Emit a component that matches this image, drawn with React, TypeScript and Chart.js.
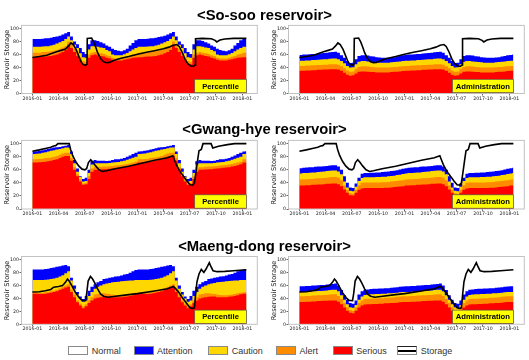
import { useEffect, useRef } from 'react';
import { Chart, registerables } from 'chart.js';

Chart.register(...registerables);

// ---------- axes ----------
const xTickLabels = ['2016-01', '2016-04', '2016-07', '2016-10', '2017-01', '2017-04', '2017-07', '2017-10', '2018-01'];
const yTickValues = [0, 20, 40, 60, 80, 100];
const yMax = 105;
const seriesEnd = '2018-01-15';
const dekadStartDays = [1, 11, 21];

// ---------- drought thresholds, one value per 10-day period (Jan 1-10 ... Dec 21-31) ----------
// So-soo, percentile method
const sosooPctSerious = [56, 56, 56.5, 57, 57, 57.5, 58, 59, 60, 62, 64, 67, 75, 70, 64, 58, 52, 46, 45, 55, 59, 60, 59, 58, 57, 55, 54, 52, 51, 51, 51, 52, 53, 54, 55, 55.5];
const sosooPctAlert = [63, 63, 63, 64, 64, 64.5, 65, 66, 67, 69, 71, 73, 80, 75, 69, 63, 56, 50, 49, 60, 63, 64, 63, 62, 61, 59, 58, 55, 54, 54, 54, 55, 56.5, 58, 60, 61];
const sosooPctCaution = [72, 72, 72, 72.5, 73, 73, 74, 75, 77, 79, 81, 84, 88, 82, 75, 70, 62, 56, 55, 68, 73, 73, 72, 71, 70, 67, 65, 60, 59, 59, 59, 60.5, 62.5, 65, 68, 70];
const sosooPctAttention = [84, 84, 84, 84.5, 85, 85, 86, 87, 88, 89, 91, 93, 95, 88, 80, 76, 70, 64, 61, 76, 82, 82, 81, 79, 77, 74, 72, 69, 67, 66, 65, 66.5, 69, 74, 78, 82];
// So-soo, administration method
const sosooAdmSerious = [35, 35, 35.5, 35.5, 36, 36, 36.5, 36.5, 37, 37, 37.5, 37.5, 37.5, 37, 35, 32, 29, 27.5, 28, 31, 33.5, 34, 34, 33.5, 33, 33, 32.5, 32.5, 32.5, 32.5, 32.5, 33, 33.5, 33.5, 34, 34.5];
const sosooAdmAlert = [42.5, 42.5, 43, 43, 43.5, 43.5, 44, 44, 44.5, 44.5, 45, 45, 45, 44.5, 42, 39, 35.5, 33.5, 34, 38, 41, 42, 42, 41.5, 41, 40.5, 40, 40, 40, 40, 40, 40.5, 41, 41, 41.5, 42];
const sosooAdmCaution = [50.5, 50.5, 51, 51, 51.5, 51.5, 52, 52.5, 53, 53, 53.5, 54, 54, 53, 50, 46.5, 42.5, 40, 40.5, 45, 49, 50, 50, 49.5, 49, 48.5, 48, 47.5, 47.5, 47.5, 47.5, 48, 48.5, 49, 49.5, 50];
const sosooAdmAttention = [59.5, 60, 60, 60.5, 61, 61, 61.5, 62, 62.5, 63, 63.5, 64, 64.5, 63, 59, 55, 50, 47, 47.5, 53, 58, 59, 59, 58.5, 57.5, 57, 56, 55.5, 55, 55, 55, 55.5, 56, 57, 58, 59];

// Gwang-hye, percentile method
const gwanghyePctSerious = [71, 71, 71.5, 72, 72.5, 73, 74, 75, 76, 78, 80, 81, 81, 74, 60, 50, 42, 37, 38, 46, 57, 60, 60, 60.5, 61, 61, 61.5, 62, 62.5, 63, 63.5, 64, 65, 66, 67, 68.5];
const gwanghyePctAlert = [76, 76, 76.5, 77, 78, 78.5, 79, 80, 81, 83, 85, 86, 86, 78, 64, 53, 45, 39, 40, 50, 62, 64, 64, 64.5, 65, 65, 65.5, 66, 66.5, 67, 67.5, 68, 69, 70, 71, 72.5];
const gwanghyePctCaution = [84, 84.5, 85, 86, 87, 88, 89, 90, 91, 92, 93, 94, 94, 84, 70, 57, 49, 42, 43, 55, 68, 70, 70, 70, 70, 70, 70.5, 71, 71.5, 72, 73, 74, 75.5, 77, 78.5, 80];
const gwanghyePctAttention = [88, 88.5, 89, 90, 91, 92, 93, 94, 94.5, 95, 96, 97, 98, 88, 75, 62, 50, 46, 48, 60, 73, 75, 74, 74, 74, 73.5, 74, 75, 76, 76, 77, 78, 80, 82, 84, 86];
// Gwang-hye, administration method
const gwanghyeAdmSerious = [36, 36, 36.5, 36.5, 37, 37, 37.5, 37.5, 38, 38.5, 38.5, 39, 39, 38, 35, 30, 25, 21, 20.5, 25, 29.5, 31.5, 32, 32, 32, 32, 32, 32, 32, 32.5, 32.5, 33, 33.5, 34, 34.5, 35];
const gwanghyeAdmAlert = [45, 45.5, 45.5, 46, 46, 46.5, 47, 47, 47.5, 48, 48.5, 49, 49, 48, 44, 36, 29, 24, 23.5, 29.5, 36.5, 40, 40.5, 40.5, 40.5, 40.5, 40.5, 40.5, 41, 41, 41.5, 42, 42.5, 43, 43.5, 44];
const gwanghyeAdmCaution = [54.5, 55, 55, 55.5, 56, 56, 56.5, 57, 57.5, 58, 58.5, 59, 59, 57.5, 53, 42, 33, 28, 27, 34, 43, 47.5, 48.5, 48.5, 48.5, 48.5, 49, 49, 49.5, 49.5, 50, 50.5, 51, 52, 52.5, 53.5];
const gwanghyeAdmAttention = [62.5, 63, 63.5, 64, 64, 64.5, 65, 65, 65.5, 66, 66.5, 67, 67, 65, 60, 50, 40, 33, 32, 39, 48, 54, 55, 55, 55.5, 55.5, 56, 56, 56.5, 57, 57.5, 58, 58.5, 59.5, 60.5, 61.5];

// Maeng-dong, percentile method
const maengdongPctSerious = [47.5, 47.5, 47, 47, 47.5, 48, 49, 50, 51, 53, 55, 57, 58, 50, 42, 34, 29, 25, 28, 33, 37, 40, 41, 42, 42.5, 43, 43, 42, 42, 42, 42, 42.5, 43, 44, 45, 46.5];
const maengdongPctAlert = [49.5, 49.5, 49, 49, 49.5, 50, 51, 52, 53.5, 56, 58, 60, 62, 54, 46, 37, 32, 28, 31, 37, 42, 46, 47, 48, 48, 47.5, 47, 46, 45.5, 45, 45, 45.5, 46, 47, 48, 49];
const maengdongPctCaution = [68.5, 68.5, 68.5, 68.5, 69, 69.5, 70, 71, 72, 74, 76, 79, 82, 68, 55, 46, 40, 35, 37, 44, 50, 55, 58, 60, 62, 63, 64, 65, 65.5, 66, 66.5, 67, 67.5, 68, 68, 68.5];
const maengdongPctAttention = [85, 85, 85, 85, 85.5, 86, 87, 88, 89, 90, 91, 92, 90, 72, 60, 50, 43, 39, 44, 52, 58, 62, 65, 67, 70, 71, 72, 73, 74, 74.5, 75.5, 77, 78, 80, 82, 84];
// Maeng-dong, administration method
const maengdongAdmSerious = [34.5, 34.5, 35, 35, 35.5, 35.5, 36, 36, 36.5, 36.5, 37, 37, 37, 35, 31, 26, 21, 18, 17, 21, 26, 29, 30.5, 31, 31, 31.5, 31.5, 32, 32, 32.5, 32.5, 33, 33, 33.5, 34, 34.5];
const maengdongAdmAlert = [43.5, 43.5, 44, 44, 44.5, 44.5, 45, 45, 45.5, 45.5, 46, 46.5, 46.5, 44, 39, 33, 26.5, 22, 21, 26, 33, 37, 39, 39.5, 39.5, 40, 40, 40.5, 40.5, 41, 41, 41.5, 42, 42.5, 43, 43.5];
const maengdongAdmCaution = [50, 50, 50.5, 50.5, 51, 51, 51.5, 51.5, 52, 52.5, 53, 53.5, 53.5, 51, 45, 38, 31, 26.5, 25.5, 30, 38, 43, 45.5, 46, 46.5, 46.5, 47, 47, 47.5, 47.5, 48, 48, 48.5, 49, 49.5, 50];
const maengdongAdmAttention = [59, 59, 59.5, 59.5, 60, 60, 60.5, 61, 61, 61.5, 62, 62.5, 63, 60, 53, 45, 38, 33, 32, 37, 46, 51, 53.5, 54, 54.5, 55, 55, 55.5, 55.5, 56, 56, 56.5, 57, 57.5, 58, 58.5];

// ---------- observed reservoir storage (%) ----------
const sosooStorageDates = ['2016-01-01', '2016-01-25', '2016-02-20', '2016-03-10', '2016-03-25', '2016-04-10', '2016-04-25', '2016-05-05', '2016-05-14', '2016-05-22', '2016-06-01', '2016-06-10', '2016-06-18', '2016-06-26', '2016-07-03', '2016-07-09', '2016-07-10', '2016-07-25', '2016-08-01', '2016-08-08', '2016-08-15', '2016-08-25', '2016-09-05', '2016-09-15', '2016-09-25', '2016-10-10', '2016-11-01', '2016-12-01', '2017-01-01', '2017-02-01', '2017-03-01', '2017-04-01', '2017-04-20', '2017-05-05', '2017-05-18', '2017-05-26', '2017-06-05', '2017-06-15', '2017-06-25', '2017-07-05', '2017-07-15', '2017-07-21', '2017-07-22', '2017-08-15', '2017-09-15', '2017-09-28', '2017-10-04', '2017-10-15', '2017-11-01', '2017-12-01', '2018-01-15'];
const sosooStorageValues = [55.5, 57, 59, 62, 64.5, 66.5, 68.5, 73, 78, 75.5, 68, 58, 49, 44.5, 43.5, 45, 85, 85.5, 80, 72, 63, 54, 49, 47.5, 48, 51, 54, 57, 60.5, 63.5, 66, 69, 71.5, 74.5, 75.5, 72.5, 64, 53, 46, 42.5, 42, 44, 84.5, 85, 84.5, 82, 79.5, 82.5, 84, 85, 85];

const gwanghyeStorageDates = ['2016-01-01', '2016-01-25', '2016-02-15', '2016-03-05', '2016-03-15', '2016-03-22', '2016-03-30', '2016-05-08', '2016-05-13', '2016-05-20', '2016-05-30', '2016-06-10', '2016-06-22', '2016-07-02', '2016-07-08', '2016-07-14', '2016-07-22', '2016-07-29', '2016-08-08', '2016-08-20', '2016-09-01', '2016-09-15', '2016-10-15', '2016-12-01', '2017-01-15', '2017-03-01', '2017-04-15', '2017-05-04', '2017-05-08', '2017-05-16', '2017-05-28', '2017-06-10', '2017-06-22', '2017-07-03', '2017-07-12', '2017-07-18', '2017-07-24', '2017-07-29', '2017-08-03', '2017-08-11', '2017-08-17', '2017-09-14', '2017-09-20', '2017-10-10', '2017-11-10', '2017-12-05', '2018-01-15'];
const gwanghyeStorageValues = [88.5, 90.5, 92.5, 94.5, 96.5, 97, 100, 100, 91, 82, 73, 66, 61, 60, 62, 71, 75.5, 72, 66, 60, 57.5, 58.5, 61.5, 65.5, 70, 74.5, 78.5, 81.5, 77, 68, 58, 50, 43, 37, 36.5, 40, 58, 74, 89, 91, 100, 100, 93.5, 96, 98.5, 100, 100];

const maengdongStorageDates = ['2016-01-01', '2016-01-25', '2016-02-15', '2016-03-05', '2016-03-15', '2016-04-01', '2016-04-15', '2016-04-25', '2016-05-02', '2016-05-08', '2016-05-18', '2016-05-30', '2016-06-12', '2016-06-22', '2016-07-04', '2016-07-08', '2016-07-13', '2016-07-21', '2016-07-28', '2016-08-05', '2016-08-15', '2016-08-25', '2016-09-05', '2016-09-20', '2016-10-10', '2016-12-01', '2017-01-01', '2017-03-01', '2017-04-15', '2017-05-06', '2017-05-12', '2017-05-22', '2017-06-05', '2017-06-20', '2017-07-02', '2017-07-10', '2017-07-18', '2017-07-22', '2017-07-27', '2017-08-03', '2017-08-11', '2017-08-20', '2017-08-28', '2017-09-04', '2017-09-08', '2017-09-13', '2017-09-21', '2017-10-05', '2017-11-01', '2017-12-01', '2018-01-15'];
const maengdongStorageValues = [50, 50.5, 52, 54, 57.5, 58.5, 60, 65, 70, 67, 59, 49, 41, 37, 36.5, 48, 67, 74, 70.5, 64, 55, 47, 43.5, 42, 43, 46, 47.5, 51.5, 55, 58.5, 56, 51, 42, 33, 26, 24.5, 25.5, 45, 66, 78, 85, 80.5, 86, 92, 95.5, 90, 83, 81.5, 82, 83, 84.5];

// ---------- styling ----------
const BAND_COLORS = ['#ff0000', '#ff8c00', '#ffd700', '#0000ff']; // serious, alert, caution, attention
const CANVAS_W = 262;
const CANVAS_H = 90;
const AXIS_W = 21.5;
const PAD_R = 4.7;
const X_MIN = -38;
const X_MAX = 783;

const T0 = Date.UTC(2016, 0, 1);
const dayIndex = (y: number, m: number, d: number) => (Date.UTC(y, m - 1, d) - T0) / 86400000;
const parseDay = (s: string) => {
  const [y, m, d] = s.split('-').map(Number);
  return dayIndex(y, m, d || 1);
};

function dekadSeries(values: number[]) {
  const end = parseDay(seriesEnd);
  const pts: { x: number; y: number }[] = [];
  let last = values[0];
  for (let y = 2016; y <= 2018; y++) {
    for (let m = 1; m <= 12; m++) {
      for (let k = 0; k < 3; k++) {
        const x = dayIndex(y, m, dekadStartDays[k]);
        if (x >= end) continue;
        last = values[(m - 1) * 3 + k];
        pts.push({ x, y: last });
      }
    }
  }
  pts.push({ x: end, y: last });
  return pts;
}

type PanelProps = {
  left: number;
  top: number;
  boxTop: number;
  boxBottom: number;
  bands: number[][];
  dates: string[];
  values: number[];
  badge: string;
  badgeWidth: number;
};

const tickFont = { family: 'DejaVu Sans', size: 4.7 };

function Panel(p: PanelProps) {
  const ref = useRef<HTMLCanvasElement>(null);

  useEffect(() => {
    const padTop = p.boxTop - p.top;
    const axisH = p.top + CANVAS_H - p.boxBottom;
    const xTickDays = xTickLabels.map(parseDay);
    const endDay = parseDay(seriesEnd);

    const decor = {
      id: 'panelDecor',
      afterDatasetsDraw(chart: any) {
        const { ctx, chartArea: a, scales } = chart;
        ctx.save();
        ctx.strokeStyle = '#c2c2c2';
        ctx.lineWidth = 1;
        ctx.strokeRect(a.left, a.top, a.right - a.left, a.bottom - a.top);
        const right = scales.x.getPixelForValue(endDay);
        const h = 13.4;
        const bottom = a.bottom - 0.8;
        const left = right - p.badgeWidth;
        ctx.fillStyle = '#ffff00';
        ctx.fillRect(left, bottom - h, p.badgeWidth, h);
        ctx.strokeStyle = '#555';
        ctx.lineWidth = 0.7;
        ctx.strokeRect(left, bottom - h, p.badgeWidth, h);
        ctx.fillStyle = '#000';
        ctx.font = 'bold 7.7px "Liberation Sans", Arial, sans-serif';
        ctx.textAlign = 'center';
        ctx.textBaseline = 'middle';
        ctx.fillText(p.badge, left + p.badgeWidth / 2, bottom - h / 2 + 0.5);
        ctx.restore();
      },
    };

    const bandSets = p.bands.map((vals, i) => ({
      data: dekadSeries(vals),
      stepped: 'before' as const,
      fill: 'origin',
      backgroundColor: BAND_COLORS[i],
      borderColor: BAND_COLORS[i],
      borderWidth: 0,
      pointRadius: 0,
    }));

    const chart = new Chart(ref.current as HTMLCanvasElement, {
      type: 'line',
      data: {
        datasets: [
          {
            data: p.dates.map((d, i) => ({ x: parseDay(d), y: p.values[i] })),
            borderColor: '#000',
            borderWidth: 1.6,
            pointRadius: 0,
            fill: false,
            tension: 0,
          },
          ...bandSets,
        ] as any,
      },
      options: {
        responsive: false,
        maintainAspectRatio: false,
        animation: false,
        events: [],
        layout: { padding: { top: padTop, right: PAD_R, left: 0, bottom: 0 } },
        plugins: { legend: { display: false }, tooltip: { enabled: false } },
        scales: {
          x: {
            type: 'linear',
            min: X_MIN,
            max: X_MAX,
            afterFit: (s: any) => {
              s.height = axisH;
            },
            afterBuildTicks: (s: any) => {
              s.ticks = xTickDays.map((v) => ({ value: v }));
            },
            ticks: {
              autoSkip: false,
              maxRotation: 0,
              padding: 0,
              color: '#222',
              font: tickFont,
              callback: (_v: any, i: number) => xTickLabels[i],
            },
            grid: { drawOnChartArea: false, drawTicks: true, tickLength: 2, color: '#666' },
            border: { display: false },
          },
          y: {
            min: 0,
            max: yMax,
            afterFit: (s: any) => {
              s.width = AXIS_W;
            },
            afterBuildTicks: (s: any) => {
              s.ticks = yTickValues.map((v) => ({ value: v }));
            },
            ticks: {
              padding: 0.5,
              color: '#222',
              font: tickFont,
              callback: (v: any) => String(v),
            },
            grid: { drawOnChartArea: false, drawTicks: true, tickLength: 2, color: '#666' },
            border: { display: false },
            title: {
              display: true,
              text: 'Reservoir Storage',
              color: '#222',
              font: { family: 'DejaVu Sans', size: 6.7 },
              padding: { top: 3, bottom: 0 },
            },
          },
        },
      } as any,
      plugins: [decor],
    });
    return () => chart.destroy();
  }, []);

  return (
    <canvas
      ref={ref}
      width={CANVAS_W}
      height={CANVAS_H}
      style={{ position: 'absolute', left: p.left, top: p.top, width: CANVAS_W, height: CANVAS_H }}
    />
  );
}

const titleStyle = (top: number): any => ({
  position: 'absolute',
  left: 0,
  top,
  width: 529,
  textAlign: 'center',
  font: 'bold 14.8px "Liberation Sans", Arial, sans-serif',
  lineHeight: '15px',
  color: '#000',
  whiteSpace: 'nowrap',
});

const legendItems = [
  { label: 'Normal', color: '#ffffff', x: 68.3 },
  { label: 'Attention', color: '#0000ff', x: 133.5 },
  { label: 'Caution', color: '#ffd700', x: 208.3 },
  { label: 'Alert', color: '#ff8c00', x: 276 },
  { label: 'Serious', color: '#ff0000', x: 332.7 },
];

function Legend() {
  const textStyle = (x: number): any => ({
    position: 'absolute',
    left: x + 23.5,
    top: 346,
    font: '9px "Liberation Sans", Arial, sans-serif',
    lineHeight: '10px',
    color: '#333',
    whiteSpace: 'nowrap',
  });
  const boxStyle = (x: number, color: string): any => ({
    position: 'absolute',
    left: x,
    top: 346,
    width: 20,
    height: 9,
    boxSizing: 'border-box',
    background: color,
    border: '1px solid #8a8a8a',
  });
  return (
    <>
      {legendItems.map((it) => (
        <div key={it.label}>
          <div style={boxStyle(it.x, it.color)} />
          <div style={textStyle(it.x)}>{it.label}</div>
        </div>
      ))}
      <div style={{ ...boxStyle(397.3, '#ffffff'), borderTop: '1px solid #222' }}>
        <div style={{ position: 'absolute', left: 0, right: 0, top: 2.5, height: 2.2, background: '#000' }} />
      </div>
      <div style={textStyle(397.3)}>Storage</div>
    </>
  );
}

export default function App() {
  const panels: PanelProps[] = [
    { left: 0, top: 17, boxTop: 25.4, boxBottom: 93.5, bands: [sosooPctSerious, sosooPctAlert, sosooPctCaution, sosooPctAttention], dates: sosooStorageDates, values: sosooStorageValues, badge: 'Percentile', badgeWidth: 51.7 },
    { left: 267, top: 17, boxTop: 25.4, boxBottom: 93.5, bands: [sosooAdmSerious, sosooAdmAlert, sosooAdmCaution, sosooAdmAttention], dates: sosooStorageDates, values: sosooStorageValues, badge: 'Administration', badgeWidth: 61 },
    { left: 0, top: 132, boxTop: 140.4, boxBottom: 209, bands: [gwanghyePctSerious, gwanghyePctAlert, gwanghyePctCaution, gwanghyePctAttention], dates: gwanghyeStorageDates, values: gwanghyeStorageValues, badge: 'Percentile', badgeWidth: 51.7 },
    { left: 267, top: 132, boxTop: 140.4, boxBottom: 209, bands: [gwanghyeAdmSerious, gwanghyeAdmAlert, gwanghyeAdmCaution, gwanghyeAdmAttention], dates: gwanghyeStorageDates, values: gwanghyeStorageValues, badge: 'Administration', badgeWidth: 61 },
    { left: 0, top: 248, boxTop: 256.5, boxBottom: 324.3, bands: [maengdongPctSerious, maengdongPctAlert, maengdongPctCaution, maengdongPctAttention], dates: maengdongStorageDates, values: maengdongStorageValues, badge: 'Percentile', badgeWidth: 51.7 },
    { left: 267, top: 248, boxTop: 256.5, boxBottom: 324.3, bands: [maengdongAdmSerious, maengdongAdmAlert, maengdongAdmCaution, maengdongAdmAttention], dates: maengdongStorageDates, values: maengdongStorageValues, badge: 'Administration', badgeWidth: 61 },
  ];

  return (
    <div style={{ position: 'fixed', left: 0, top: 0, width: 529, height: 360, background: '#fff', overflow: 'hidden' }}>
      {panels.map((p, i) => (
        <Panel key={i} {...p} />
      ))}
      <div style={titleStyle(7.9)}>{'<So-soo reservoir>'}</div>
      <div style={titleStyle(122.4)}>{'<Gwang-hye reservoir>'}</div>
      <div style={titleStyle(239.1)}>{'<Maeng-dong reservoir>'}</div>
      <Legend />
    </div>
  );
}
